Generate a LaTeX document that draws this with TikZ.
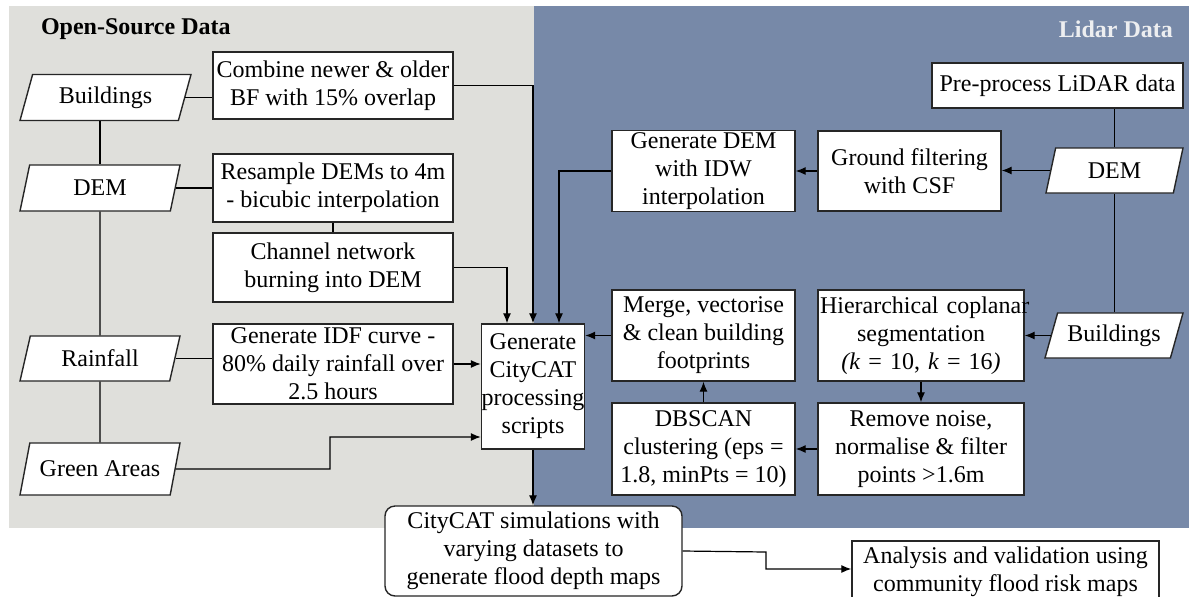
\documentclass[tikz,border=0pt]{standalone}
\usepackage{fontspec}
\setmainfont{Liberation Serif}
\usetikzlibrary{calc, arrows.meta}
\usetikzlibrary{shapes.geometric}

\definecolor{osgrey}{HTML}{DFDFDB}
\definecolor{lidarblue}{HTML}{7789A8}
\definecolor{lidartext}{HTML}{EDEEF0}

\tikzset{
    stepbox/.style={draw=black!85, fill=white, line width=0.7pt, align=center,
        inner sep=1pt, font=\fontsize{12}{14}\selectfont},
    databox/.style={trapezium, trapezium left angle=64, trapezium right angle=116,
        trapezium stretches body, draw=black!85, fill=white, line width=0.7pt,
        inner sep=1pt, font=\fontsize{12}{14}\selectfont},
    flow/.style={-{Latex[length=5pt, width=4pt]}, line width=0.6pt},
    link/.style={line width=0.6pt},
}

\begin{document}
\begin{tikzpicture}[x=0.5pt, y=-0.5pt]
\useasboundingbox (0,0) rectangle (1189,596);

% Panels
\fill[osgrey] (9,6) rectangle (534,528);
\fill[lidarblue] (534,6) rectangle (1189,528);
\node[anchor=west, font=\fontsize{12}{14}\selectfont\bfseries] (osTitle) at (34,29) {Open-Source Data};
\node[anchor=east, font=\fontsize{12}{14}\selectfont\bfseries, text=lidartext] (lidarTitle) at (1180,29) {Lidar Data};

% Open-source inputs
\node[databox, minimum width=85.5pt, minimum height=23pt] (bldgL) at (105.5,97.5) {Buildings};
\node[databox, minimum width=80pt, minimum height=23pt] (demL) at (100,188) {DEM};
\node[databox, minimum width=80pt, minimum height=22.5pt] (rain) at (100,358.5) {Rainfall};
\node[databox, minimum width=80pt, minimum height=26pt, inner xsep=-2pt] (greenA) at (100,469) {Green Areas};

% Open-source processing
\node[stepbox, minimum width=120pt, minimum height=33.5pt] (combine) at (333,85.5) {Combine newer \& older\\BF with 15\% overlap};
\node[stepbox, minimum width=120pt, minimum height=34pt] (resample) at (333,188) {Resample DEMs to 4m\\- bicubic interpolation};
\node[stepbox, minimum width=120pt, minimum height=34.5pt] (channel) at (333,267.5) {Channel network\\burning into DEM};
\node[stepbox, minimum width=120pt, minimum height=40pt] (idf) at (333,364) {Generate IDF curve -\\80\% daily rainfall over\\2.5 hours};
\node[stepbox, minimum width=51.5pt, minimum height=62.5pt, inner sep=0pt] (proc) at (533,386.5) {Generate\\CityCAT\\processing\\scripts};

% Lidar processing
\node[stepbox, minimum width=125.5pt, minimum height=22.5pt] (prep) at (1057.5,85.5) {Pre-process LiDAR data};
\node[databox, minimum width=68.5pt, minimum height=22.5pt] (demR) at (1114.5,170.5) {DEM};
\node[databox, minimum width=69pt, minimum height=22.5pt] (bldgR) at (1114,335.5) {Buildings};
\node[stepbox, minimum width=91.5pt, minimum height=40pt] (ground) at (909.5,171) {Ground filtering\\with CSF};
\node[stepbox, minimum width=91.5pt, minimum height=40pt] (gendem) at (703.5,171) {Generate DEM\\with IDW\\interpolation};
\node[stepbox, minimum width=103pt, minimum height=45.5pt, text width=101pt] (hier) at (921,335.5) {\mbox{Hierarchical coplanar}\\segmentation\\\textit{(k} = 10, \textit{k} = 16\textit{)}};
\node[stepbox, minimum width=91.5pt, minimum height=45.5pt] (merge) at (703.5,335.5) {Merge, vectorise\\\& clean building\\footprints};
\node[stepbox, minimum width=103pt, minimum height=46pt] (remove) at (921,449) {Remove noise,\\normalise \& filter\\points >1.6m};
\node[stepbox, minimum width=91.5pt, minimum height=46pt] (dbscan) at (703.5,449) {DBSCAN\\clustering (eps =\\1.8, minPts = 10)};

% Outputs
\node[stepbox, rounded corners=5pt, minimum width=148.5pt, minimum height=45pt] (sim) at (533.5,551) {CityCAT simulations with\\varying datasets to\\generate flood depth maps};
\node[stepbox, minimum width=153.5pt, minimum height=31pt] (analysis) at (1005.5,572) {Analysis and validation using\\community flood risk maps};

% Bends
\coordinate (procTopL) at ($(proc.north)+(-26,0)$);
\coordinate (procTopR) at ($(proc.north)+(26,0)$);
\coordinate (gaIn) at ($(proc.west)+(0,50.5)$);
\coordinate (gaBend) at (330,469);
\coordinate (simBend) at (766,552);
\coordinate (anIn) at ($(analysis.west)+(0,-3)$);

% Plain links
\draw[link] (bldgL.east) -- (bldgL.east -| combine.west);
\draw[link] (demL.east) -- (demL.east -| resample.west);
\draw[link] (rain.east) -- (rain.east -| idf.west);
\draw[link] (demL.north) -- (demL.north |- bldgL.south);
\draw[link] (demL.south) -- (rain.north);
\draw[link] (rain.south) -- (greenA.north);
\draw[link] (resample.south) -- (channel.north);
\draw[link] (demR.north) -- (demR.north |- prep.south);
\draw[link] (demR.south) -- (demR.south |- bldgR.north);

% Arrows
\draw[flow] (combine.east) -| (proc.north);
\draw[flow] (channel.east) -| (procTopL);
\draw[flow] (gendem.west) -| (procTopR);
\draw[flow] (idf.east) -- (proc.west |- idf.east);
\draw[flow] (greenA.east) -- (gaBend) |- (gaIn);
\draw[flow] (merge.west) -- (proc.east |- merge.west);
\draw[flow] (proc.south) -- (proc.south |- sim.north);
\draw[flow] (sim.east) -- (simBend) |- (anIn);
\draw[flow] (demR.west) -- (demR.west -| ground.east);
\draw[flow] (ground.west) -- (gendem.east);
\draw[flow] (bldgR.west) -- (bldgR.west -| hier.east);
\draw[flow] (hier.south) -- (remove.north);
\draw[flow] (remove.west) -- (dbscan.east);
\draw[flow] (dbscan.north) -- (merge.south);
\end{tikzpicture}
\end{document}
